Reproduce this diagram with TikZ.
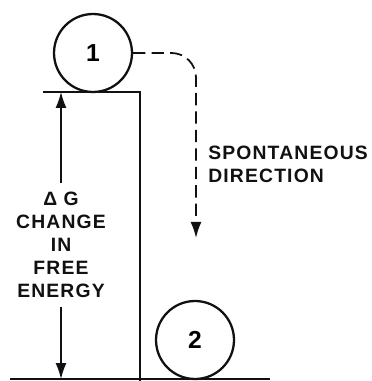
\documentclass[tikz,border=0pt]{standalone}
\usepackage{fontspec}
\usepackage{tikz}
\usetikzlibrary{arrows.meta,positioning,calc}
\newfontfamily\letterfont[LetterSpace=6]{Liberation Sans Bold}
\definecolor{ink}{HTML}{111111}
\tikzset{
  ball/.style={draw=ink,circle,line width=1.3pt,minimum size=1.56cm,
               inner sep=0pt,font=\letterfont\fontsize{14}{16}\selectfont},
  ground/.style={draw=ink,line width=1.3pt},
  lettering/.style={font=\letterfont\fontsize{11}{13}\selectfont,text=ink,inner sep=0pt},
  levelarr/.style={-{Latex[length=3.2mm,width=2.2mm]},line width=0.8pt,color=ink},
  pathdash/.style={-{Latex[length=3.2mm,width=2.2mm]},line width=1pt,color=ink,
                   dash pattern=on 7pt off 3.5pt,rounded corners=14pt}
}

\begin{document}
\begin{tikzpicture}[x=0.02cm,y=0.02cm]
  \useasboundingbox (0,0) rectangle (371,381);
  % step and floor
  \coordinate (ledgeL) at (43,289);
  \coordinate (ledgeR) at (140,289);
  \coordinate (stepfoot) at (140,0);
  \coordinate (floorL) at (10,2);
  \coordinate (floorR) at (270,2);
  \draw[ground] (ledgeL) -- (ledgeR) -- (stepfoot);
  \draw[ground] (floorL) -- (floorR);
  % the two states
  \node[ball] (ball1) at (93,328) {1};
  \node[ball] (ball2) at (195,41) {2};
  % free energy difference
  \node[lettering,align=center] (dglabel) at (61,136) {%
    Δ G\\ CHANGE\\ IN\\ FREE\\ ENERGY};
  \coordinate (dgtop) at (ledgeL -| dglabel);
  \coordinate (dgbot) at (floorL -| dglabel);
  \draw[levelarr] ([yshift=5pt]dglabel.north) -- (dgtop);
  \draw[levelarr] ([yshift=-5pt]dglabel.south) -- (dgbot);
  % spontaneous path
  \coordinate (fallend) at (196,143);
  \draw[pathdash] (ball1.east) -- (196,328) -- (fallend);
  \node[lettering,anchor=west] (spont) at (208,228) {SPONTANEOUS};
  \node[lettering,below=5pt of spont.south west,anchor=north west] (dirn) {DIRECTION};
\end{tikzpicture}
\end{document}
